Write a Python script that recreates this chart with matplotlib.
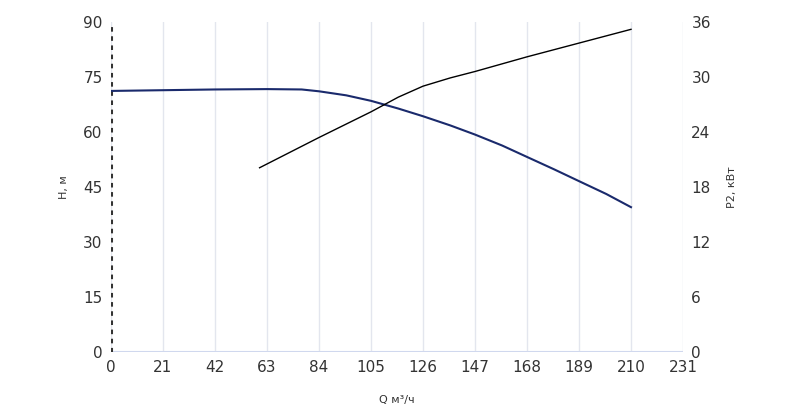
import matplotlib
matplotlib.use("Agg")
import matplotlib.pyplot as plt
import numpy as np

q_h = [0, 21, 42, 63, 77, 84, 95, 105, 116, 126, 137, 147, 158, 168, 179, 189, 200, 210]
h = [71.2, 71.4, 71.6, 71.7, 71.6, 71.1, 70.0, 68.5, 66.4, 64.3, 61.8, 59.3, 56.3, 53.2, 49.8, 46.6, 43.1, 39.5]
q_p = [60, 84, 105, 116, 126, 137, 147, 168, 189, 210]
p = [20.1, 23.4, 26.2, 27.8, 29.0, 29.9, 30.6, 32.2, 33.7, 35.2]
xticks = list(range(0, 232, 21))
hticks = list(range(0, 91, 15))
pticks = list(range(0, 37, 6))

fig = plt.figure(figsize=(8, 4.08), dpi=100)
ax = fig.add_axes([111/800, 1-352/408, 572/800, 330/408])
ax2 = ax.twinx()
tc = '#333333'
ax.plot(q_h, h, color='#1a2a6c', lw=1.5, zorder=3)
ax2.plot(q_p, p, color='black', lw=1.0)
ax.set_xlim(0, 231); ax.set_ylim(0, 90); ax2.set_ylim(0, 36)
ax.set_xticks(xticks); ax.set_yticks(hticks); ax2.set_yticks(pticks)
ax.grid(axis='x', color='#e3e6ee', lw=1)
for a in (ax, ax2):
    for s in a.spines.values(): s.set_visible(False)
    a.tick_params(length=0, labelsize=11, colors=tc, pad=6)
ax.axhline(0, color='#d0d8ee', lw=1.5)
ax.axvline(0, color='#333333', lw=2.2, ls=(0, (1.5, 1.5)))
ax.set_xlabel('Q м³/ч', fontsize=8, color=tc, labelpad=14)
ax.set_ylabel('H, м', fontsize=8, color=tc, labelpad=10)
ax2.set_ylabel('P2, кВт', fontsize=8, color=tc, labelpad=12)
fig.savefig('out.png', dpi=100)
